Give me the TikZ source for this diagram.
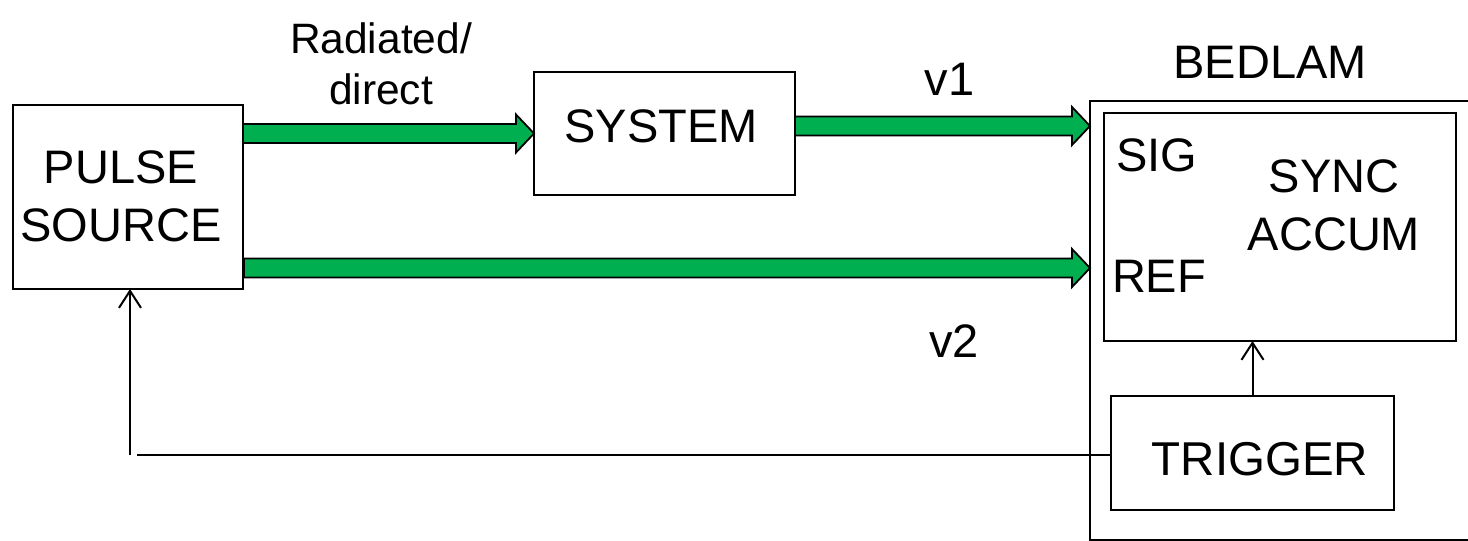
\documentclass[tikz,border=0pt]{standalone}
\usepackage{fontspec}
\setmainfont{Liberation Sans}
\usetikzlibrary{calc,arrows.meta}

\definecolor{sigreen}{RGB}{0,176,80}

\tikzset{
  blockbox/.style={draw=black, line width=2.2pt, rectangle, inner sep=0pt, outer sep=0pt},
  lbl/.style={font=\fontsize{47pt}{58pt}\selectfont, align=center, inner sep=0pt, text=black},
  smalllbl/.style={font=\fontsize{42.5pt}{51pt}\selectfont, align=center, inner sep=0pt, text=black},
  fatarrowstyle/.style={fill=sigreen, draw=black, line width=1.8pt, line join=miter},
  thinlink/.style={draw=black, line width=2pt},
  tipped/.style={thinlink, -{Straight Barb[length=17pt, width=22pt]}},
}

% Broad green signal arrow between two points on one horizontal line
\newcommand{\fatarrow}[2]{%
  \draw[fatarrowstyle] let \p1=(#1), \p2=(#2) in
    (\x1,\y1+9.5pt) -- (\x2-18pt,\y1+9.5pt) -- (\x2-18pt,\y1+19pt) -- (\x2,\y1)
    -- (\x2-18pt,\y1-19pt) -- (\x2-18pt,\y1-9.5pt) -- (\x1,\y1-9.5pt) -- cycle;}

\begin{document}
\begin{tikzpicture}[x=1pt, y=-1pt]
  \useasboundingbox (0,0) rectangle (1468,541);

  % blocks
  \node[blockbox, minimum width=230pt, minimum height=184pt] (pulse) at (128,197) {};
  \node[blockbox, minimum width=261pt, minimum height=123pt] (sys) at (664.5,133.5) {};
  \node[blockbox, minimum width=440pt, minimum height=439pt] (bedlam) at (1310,320.5) {};
  \node[blockbox, minimum width=352pt, minimum height=228pt] (accum) at (1280,227) {};
  \node[blockbox, minimum width=283pt, minimum height=114pt] (trig) at (1252.5,453) {};

  % labels
  \node[lbl] (pulsetxt) at (121,196) {PULSE\\SOURCE};
  \node[lbl] (systxt) at (661,126.5) {SYSTEM};
  \node[smalllbl] (pathtxt) at (381,64) {Radiated/\\direct};
  \node[lbl] (v1txt) at (949.5,79) {v1};
  \node[lbl] (v2txt) at (954,341) {v2};
  \node[lbl] (bedlamtxt) at (1270,62.5) {BEDLAM};
  \node[lbl] (sigtxt) at (1157,155) {SIG};
  \node[lbl] (reftxt) at (1159,276) {REF};
  \node[lbl] (accumtxt) at (1334,205) {SYNC\\ACCUM};
  \node[lbl, font=\fontsize{47.5pt}{58pt}\selectfont] (trigtxt) at (1260,459.5) {TRIGGER};

  % signal paths
  \coordinate (a1start) at (pulse.east |- sys.west);
  \fatarrow{a1start}{sys.west}

  \coordinate (v1start) at ([yshift=7.5pt]sys.east);
  \coordinate (sigin) at (v1start -| bedlam.west);
  \fatarrow{v1start}{sigin}

  \coordinate (refin) at (bedlam.west |- 0,268);
  \coordinate (v2start) at ([xshift=1pt]pulse.east |- refin);
  \fatarrow{v2start}{refin}

  % trigger connections
  \draw[tipped] (trig.north) -- (trig.north |- accum.south);
  \coordinate (fbcorner) at (130,455);
  \draw[thinlink, line width=1.6pt] (trig.west |- fbcorner) -- ([xshift=7pt]fbcorner);
  \draw[tipped] (fbcorner) -- (fbcorner |- pulse.south);
\end{tikzpicture}
\end{document}
